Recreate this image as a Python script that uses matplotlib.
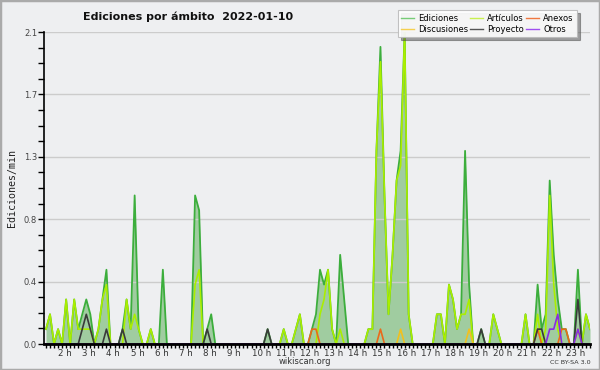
import numpy as np
import matplotlib
matplotlib.use("Agg")
import matplotlib.pyplot as plt
from matplotlib.lines import Line2D
from matplotlib.patches import Rectangle

# 10-minute bins starting at 1:30, values in edits/min
start_hour = 1.5
ediciones = [
    0.1, 0.2, 0, 0.1, 0, 0.3, 0, 0.3, 0.1, 0.2, 0.3, 0.2,
    0, 0.1, 0.3, 0.5, 0, 0, 0, 0.1, 0.3, 0.1, 1.0, 0.1,
    0, 0, 0.1, 0, 0, 0.5, 0, 0, 0, 0, 0, 0,
    0, 1.0, 0.9, 0, 0.1, 0.2, 0, 0, 0, 0, 0, 0,
    0, 0, 0, 0, 0, 0, 0, 0.1, 0, 0, 0, 0.1,
    0, 0, 0.1, 0.2, 0, 0, 0.1, 0.2, 0.5, 0.4, 0.5, 0.1,
    0, 0.6, 0.3, 0, 0, 0, 0, 0, 0.1, 0.1, 1.3, 2.0,
    1.0, 0.2, 0.6, 1.1, 1.3, 2.1, 0.2, 0, 0, 0, 0, 0,
    0, 0.2, 0.2, 0, 0.4, 0.3, 0.1, 0.2, 1.3, 0.4, 0, 0,
    0.1, 0, 0, 0.2, 0.1, 0, 0, 0, 0, 0, 0, 0.2,
    0, 0, 0.4, 0.1, 0.2, 1.1, 0.6, 0.3, 0.1, 0.1, 0, 0,
    0.5, 0, 0.2, 0.1,
]
articulos = [
    0.1, 0.2, 0, 0.1, 0, 0.3, 0, 0.3, 0.1, 0.1, 0.1, 0.1,
    0, 0.1, 0.3, 0.4, 0, 0, 0, 0, 0.3, 0.1, 0.2, 0.1,
    0, 0, 0.1, 0, 0, 0, 0, 0, 0, 0, 0, 0,
    0, 0.4, 0.5, 0, 0, 0, 0, 0, 0, 0, 0, 0,
    0, 0, 0, 0, 0, 0, 0, 0, 0, 0, 0, 0.1,
    0, 0, 0.1, 0.2, 0, 0, 0, 0, 0.2, 0.3, 0.5, 0.1,
    0, 0.1, 0, 0, 0, 0, 0, 0, 0.1, 0.1, 1.3, 1.9,
    1.0, 0.2, 0.6, 1.1, 1.2, 2.1, 0.2, 0, 0, 0, 0, 0,
    0, 0.2, 0.2, 0, 0.4, 0.3, 0.1, 0.2, 0.2, 0.3, 0, 0,
    0, 0, 0, 0.2, 0.1, 0, 0, 0, 0, 0, 0, 0.2,
    0, 0, 0.2, 0, 0.1, 1.0, 0.4, 0.1, 0, 0, 0, 0,
    0.1, 0, 0.2, 0.1,
]
anexos = [
    0, 0, 0, 0, 0, 0, 0, 0, 0, 0, 0, 0,
    0, 0, 0, 0, 0, 0, 0, 0, 0, 0, 0, 0,
    0, 0, 0, 0, 0, 0, 0, 0, 0, 0, 0, 0,
    0, 0, 0, 0, 0, 0, 0, 0, 0, 0, 0, 0,
    0, 0, 0, 0, 0, 0, 0, 0, 0, 0, 0, 0,
    0, 0, 0, 0, 0, 0, 0.1, 0.1, 0, 0, 0, 0,
    0, 0, 0, 0, 0, 0, 0, 0, 0, 0, 0, 0.1,
    0, 0, 0, 0, 0, 0, 0, 0, 0, 0, 0, 0,
    0, 0, 0, 0, 0, 0, 0, 0, 0, 0, 0, 0,
    0, 0, 0, 0, 0, 0, 0, 0, 0, 0, 0, 0,
    0, 0, 0.1, 0, 0, 0, 0, 0, 0.1, 0.1, 0, 0,
    0, 0, 0, 0,
]
discusiones = [
    0, 0, 0, 0, 0, 0, 0, 0, 0, 0, 0, 0,
    0, 0, 0, 0, 0, 0, 0, 0, 0, 0, 0, 0,
    0, 0, 0, 0, 0, 0, 0, 0, 0, 0, 0, 0,
    0, 0, 0, 0, 0, 0, 0, 0, 0, 0, 0, 0,
    0, 0, 0, 0, 0, 0, 0, 0, 0, 0, 0, 0,
    0, 0, 0, 0, 0, 0, 0, 0, 0, 0, 0, 0,
    0, 0, 0, 0, 0, 0, 0, 0, 0, 0, 0, 0,
    0, 0, 0, 0, 0.1, 0, 0, 0, 0, 0, 0, 0,
    0, 0, 0, 0, 0, 0, 0, 0, 0, 0.1, 0, 0,
    0, 0, 0, 0, 0, 0, 0, 0, 0, 0, 0, 0,
    0, 0, 0, 0, 0, 0, 0, 0, 0, 0, 0, 0,
    0, 0, 0, 0,
]
proyecto = [
    0, 0, 0, 0, 0, 0, 0, 0, 0, 0.1, 0.2, 0.1,
    0, 0, 0, 0.1, 0, 0, 0, 0.1, 0, 0, 0, 0,
    0, 0, 0, 0, 0, 0, 0, 0, 0, 0, 0, 0,
    0, 0, 0, 0, 0.1, 0, 0, 0, 0, 0, 0, 0,
    0, 0, 0, 0, 0, 0, 0, 0.1, 0, 0, 0, 0,
    0, 0, 0, 0, 0, 0, 0, 0, 0, 0, 0, 0,
    0, 0, 0, 0, 0, 0, 0, 0, 0, 0, 0, 0,
    0, 0, 0, 0, 0, 0, 0, 0, 0, 0, 0, 0,
    0, 0, 0, 0, 0, 0, 0, 0, 0, 0, 0, 0,
    0.1, 0, 0, 0, 0, 0, 0, 0, 0, 0, 0, 0,
    0, 0, 0.1, 0.1, 0, 0, 0, 0, 0, 0, 0, 0,
    0.3, 0, 0, 0,
]
otros = [
    0, 0, 0, 0, 0, 0, 0, 0, 0, 0, 0, 0,
    0, 0, 0, 0, 0, 0, 0, 0, 0, 0, 0, 0,
    0, 0, 0, 0, 0, 0, 0, 0, 0, 0, 0, 0,
    0, 0, 0, 0, 0, 0, 0, 0, 0, 0, 0, 0,
    0, 0, 0, 0, 0, 0, 0, 0, 0, 0, 0, 0,
    0, 0, 0, 0, 0, 0, 0, 0, 0, 0, 0, 0,
    0, 0, 0, 0, 0, 0, 0, 0, 0, 0, 0, 0,
    0, 0, 0, 0, 0, 0, 0, 0, 0, 0, 0, 0,
    0, 0, 0, 0, 0, 0, 0, 0, 0, 0, 0, 0,
    0, 0, 0, 0, 0, 0, 0, 0, 0, 0, 0, 0,
    0, 0, 0, 0, 0, 0.1, 0.1, 0.2, 0, 0, 0, 0,
    0.1, 0, 0, 0,
]
hour_labels = ["%d h" % h for h in range(2, 24)]
y_labels = ["0.0", "0.4", "0.8", "1.3", "1.7", "2.1"]

bg = "#eeeff1"
fig = plt.figure(figsize=(6, 3.7), dpi=100, facecolor=bg)
ax = fig.add_axes([44 / 600, 26 / 370, 546 / 600, 312 / 370])
ax.set_facecolor(bg)

t = start_hour + np.arange(len(ediciones)) / 6.0

ax.fill_between(t, 0, ediciones, color="#a0cca0", lw=0, zorder=1)
ax.plot(t, ediciones, color="#3cae3c", lw=1.3, zorder=2)
series = [
    (articulos, "#aaee00"),
    (anexos, "#ea6a1a"),
    (discusiones, "#f2c01e"),
    (proyecto, "#3a3a3a"),
    (otros, "#8a2be2"),
]
for vals, col in series:
    ax.plot(t, vals, color=col, lw=1.2, zorder=2)

ax.set_xlim(start_hour - 2 / 24.2, 24.0)
ax.set_ylim(0, 2.1)

yt = np.linspace(0, 2.1, 6)
ax.set_yticks(yt)
ax.set_yticklabels(y_labels)
ax.set_yticks(np.linspace(0, 2.1, 21), minor=True)
ax.grid(axis="y", which="major", color="#cccccc", lw=1, zorder=0)
ax.tick_params(axis="y", which="both", direction="out", length=4, width=1,
               labelsize=6, labelcolor="#444444", pad=1)

ax.set_xticks(np.arange(2, 24))
ax.set_xticklabels(hour_labels)
ax.set_xticks(start_hour + np.arange(len(ediciones)) / 6.0, minor=True)
ax.tick_params(axis="x", which="both", direction="out", length=3, width=1,
               labelsize=6.2, labelcolor="#333333", pad=0.5)
for lab in ax.get_xticklabels():
    lab.set_ha("left")

for s in ["top", "right"]:
    ax.spines[s].set_visible(False)
ax.spines["left"].set_linewidth(1.2)
ax.spines["bottom"].set_linewidth(2)
ax.spines["bottom"].set_zorder(5)

ax.set_ylabel("Ediciones/min", family="DejaVu Sans Mono", fontsize=7.2,
              color="#222222", labelpad=5)

names = ["Ediciones", "Discusiones", "Artículos", "Proyecto", "Anexos", "Otros"]
cols = ["#77cc77", "#f5d050", "#c8f050", "#555555", "#f07840", "#a050f0"]
handles = [Line2D([], [], color=c, lw=1) for c in cols]
leg = fig.legend(handles, names, ncol=3, loc="upper right",
                 bbox_to_anchor=(581 / 600, 1 - 6 / 370), fontsize=6,
                 frameon=True, shadow=True, fancybox=False, framealpha=0.9,
                 edgecolor="#bbbbbb", handlelength=1.5, handletextpad=0.5,
                 columnspacing=0.3, labelspacing=0.3, borderpad=0.4)
leg.get_frame().set_linewidth(0.8)

fig.text(188 / 600, 1 - 17 / 370, "Ediciones por ámbito  2022-01-10",
         ha="center", va="center", fontsize=8, fontweight="bold", color="#111111")
fig.text(305 / 600, 1 - 362 / 370, "wikiscan.org", ha="center", va="center",
         fontsize=6, color="#333333")
fig.text(570 / 600, 1 - 362 / 370, "CC BY-SA 3.0", ha="center", va="center",
         fontsize=4.6, color="#333333")

fig.patches.append(Rectangle((0, 0), 1, 1, transform=fig.transFigure, fill=False,
                             edgecolor="#aaaaaa", lw=2.5))

fig.savefig("out.png", dpi=100, facecolor=bg)
